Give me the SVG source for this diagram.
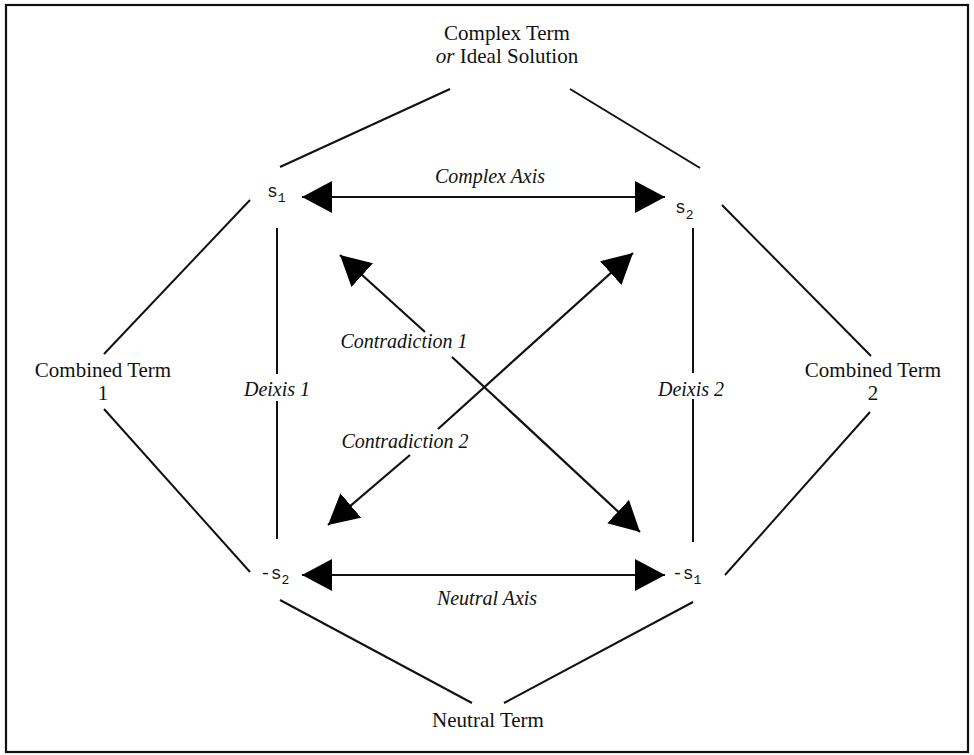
<svg xmlns="http://www.w3.org/2000/svg" width="974" height="755" viewBox="0 0 974 755">
<defs>
<marker id="ah" viewBox="0 0 30 32" markerWidth="30" markerHeight="32" refX="30" refY="16" markerUnits="userSpaceOnUse" orient="auto-start-reverse">
<path d="M0,0 L30,16 L0,32 Z" fill="#000"/>
</marker>
</defs>
<style>
.t{font-family:"Liberation Serif","Times New Roman",serif;font-size:21px;fill:#111}
.i{font-family:"Liberation Serif","Times New Roman",serif;font-size:20px;font-style:italic;fill:#111}
.s{font-family:"Liberation Mono","Courier New",monospace;font-size:18px;fill:#111}
.sub{font-size:13px}
.ln{stroke:#111;stroke-width:2;fill:none}
.ar{stroke:#111;stroke-width:2.2;fill:none}
</style>
<rect x="6" y="5" width="962" height="747" fill="#fff" stroke="#111" stroke-width="2.2"/>
<g id="connectors">
<line class="ln" x1="450" y1="89" x2="280" y2="167"/>
<line class="ln" x1="570" y1="89" x2="700" y2="168"/>
<line class="ln" x1="250" y1="200" x2="104" y2="354"/>
<line class="ln" x1="104" y1="409" x2="250" y2="572"/>
<line class="ln" x1="722" y1="205" x2="871" y2="356"/>
<line class="ln" x1="870" y1="412" x2="725" y2="575"/>
<line class="ln" x1="280" y1="600" x2="472" y2="703"/>
<line class="ln" x1="504" y1="703" x2="693" y2="602"/>
<line class="ln" x1="277" y1="228" x2="277" y2="374"/>
<line class="ln" x1="277" y1="401" x2="277" y2="539"/>
<line class="ln" x1="693" y1="228" x2="693" y2="373"/>
<line class="ln" x1="693" y1="399" x2="693" y2="542"/>
<line class="ar" x1="302" y1="197" x2="665" y2="197" marker-start="url(#ah)" marker-end="url(#ah)"/>
<line class="ar" x1="302" y1="575" x2="665" y2="575" marker-start="url(#ah)" marker-end="url(#ah)"/>
<line class="ar" x1="425" y1="332" x2="340" y2="255" marker-end="url(#ah)"/>
<line class="ar" x1="452" y1="357" x2="640" y2="532" marker-end="url(#ah)"/>
<line class="ar" x1="438" y1="429" x2="633" y2="253" marker-end="url(#ah)"/>
<line class="ar" x1="410" y1="455" x2="328" y2="525" marker-end="url(#ah)"/>
</g>
<g id="complex-term">
<text class="t" x="507" y="40" text-anchor="middle">Complex Term</text>
<text class="t" x="507" y="63" text-anchor="middle"><tspan font-style="italic">or</tspan> Ideal Solution</text>
</g>
<g id="s1"><text class="s" x="267" y="197">s<tspan class="sub" dy="5">1</tspan></text></g>
<g id="s2"><text class="s" x="675" y="213">s<tspan class="sub" dy="6">2</tspan></text></g>
<g id="not-s2"><text class="s" x="260" y="579">-s<tspan class="sub" dy="5">2</tspan></text></g>
<g id="not-s1"><text class="s" x="672" y="579">-s<tspan class="sub" dy="5">1</tspan></text></g>
<g id="combined-1">
<text class="t" x="103" y="377" text-anchor="middle">Combined Term</text>
<text class="t" x="103" y="400" text-anchor="middle">1</text>
</g>
<g id="combined-2">
<text class="t" x="873" y="377" text-anchor="middle">Combined Term</text>
<text class="t" x="873" y="400" text-anchor="middle">2</text>
</g>
<g id="neutral-term"><text class="t" x="488" y="727" text-anchor="middle">Neutral Term</text></g>
<g id="labels">
<text class="i" x="490" y="183" text-anchor="middle">Complex Axis</text>
<text class="i" x="487" y="605" text-anchor="middle">Neutral Axis</text>
<text class="i" x="277" y="396" text-anchor="middle">Deixis 1</text>
<text class="i" x="691" y="396" text-anchor="middle">Deixis 2</text>
<text class="i" x="404" y="348" text-anchor="middle">Contradiction 1</text>
<text class="i" x="405" y="448" text-anchor="middle">Contradiction 2</text>
</g>
</svg>
